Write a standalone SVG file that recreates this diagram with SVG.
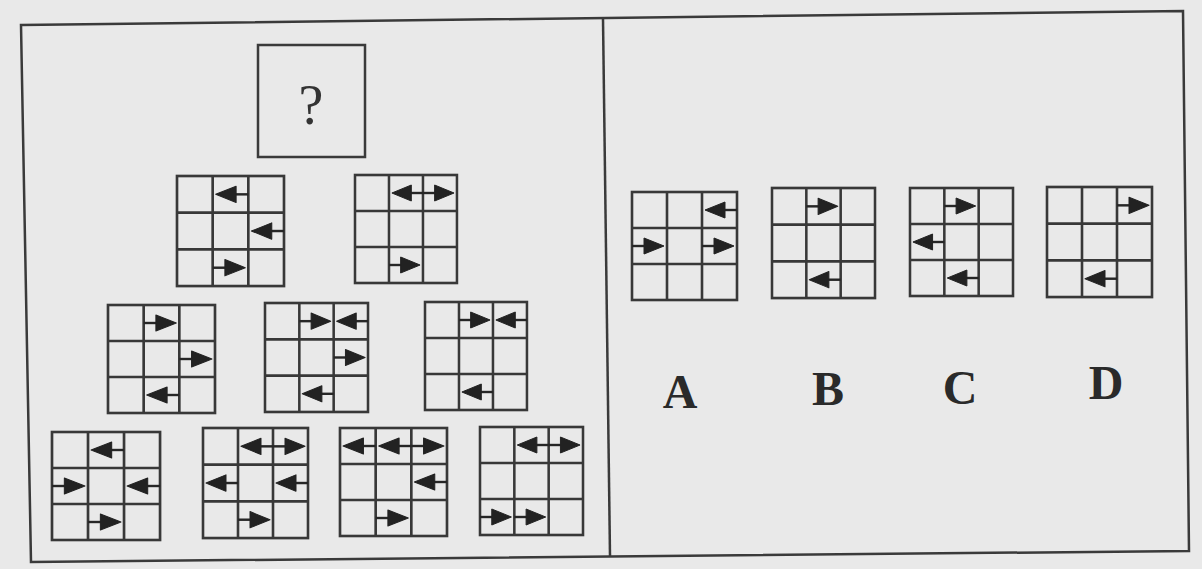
<svg xmlns="http://www.w3.org/2000/svg" xmlns:xlink="http://www.w3.org/1999/xlink" width="1202" height="569" viewBox="0 0 1202 569">
<style>
.frame{fill:none;stroke:#3a3a3a;stroke-width:2.5}
.gl{fill:none;stroke:#383838;stroke-width:2.6}
.al{stroke:#262626;stroke-width:2.4;fill:none}
.ah{fill:#222;stroke:#222;stroke-width:1;stroke-linejoin:round}
.lbl{font-family:"Liberation Serif","Times New Roman",serif;font-weight:bold;font-size:48px;fill:#2a2a2a;text-anchor:middle}
.q{font-family:"Liberation Serif","Times New Roman",serif;font-size:56px;fill:#333;text-anchor:middle}
</style>
<defs>
<g id="grid">
<rect class="gl" x="0" y="0" width="105" height="108"/>
<path class="gl" d="M35,0V108M70,0V108M0,36H105M0,72H105"/>
</g>
<g id="aR"><path class="al" d="M0,0H16"/><polygon class="ah" points="12,-8 32,0 12,8"/></g>
<g id="aL"><path class="al" d="M19,0H35"/><polygon class="ah" points="23,-8 3,0 23,8"/></g>
</defs>
<rect width="1202" height="569" fill="#e9e9e9"/>
<g id="frame">
<polygon class="frame" points="21,25 1183,11 1189,551 31,562"/>
<path class="frame" d="M603,19L610,556"/>
</g>
<g id="question">
<rect class="frame" x="258" y="45" width="107" height="112"/>
<text class="q" x="311" y="124">?</text>
</g>
<g id="g1" transform="translate(177,176) scale(1.019,1.019)">
<use xlink:href="#grid"/>
<use xlink:href="#aL" x="35" y="18"/><use xlink:href="#aL" x="70" y="54"/><use xlink:href="#aR" x="35" y="90"/>
</g>
<g id="g2" transform="translate(355,175) scale(0.971,1)">
<use xlink:href="#grid"/>
<use xlink:href="#aL" x="35" y="18"/><use xlink:href="#aR" x="70" y="18"/><use xlink:href="#aR" x="35" y="90"/>
</g>
<g id="g3" transform="translate(108,305) scale(1.019,1)">
<use xlink:href="#grid"/>
<use xlink:href="#aR" x="35" y="18"/><use xlink:href="#aR" x="70" y="54"/><use xlink:href="#aL" x="35" y="90"/>
</g>
<g id="g4" transform="translate(265,303) scale(0.981,1.009)">
<use xlink:href="#grid"/>
<use xlink:href="#aR" x="35" y="18"/><use xlink:href="#aL" x="70" y="18"/><use xlink:href="#aR" x="70" y="54"/><use xlink:href="#aL" x="35" y="90"/>
</g>
<g id="g5" transform="translate(425,302) scale(0.971,1)">
<use xlink:href="#grid"/>
<use xlink:href="#aR" x="35" y="18"/><use xlink:href="#aL" x="70" y="18"/><use xlink:href="#aL" x="35" y="90"/>
</g>
<g id="g6" transform="translate(52,432) scale(1.029,1)">
<use xlink:href="#grid"/>
<use xlink:href="#aL" x="35" y="18"/><use xlink:href="#aR" x="0" y="54"/><use xlink:href="#aL" x="70" y="54"/><use xlink:href="#aR" x="35" y="90"/>
</g>
<g id="g7" transform="translate(203,428) scale(1,1.019)">
<use xlink:href="#grid"/>
<use xlink:href="#aL" x="35" y="18"/><use xlink:href="#aR" x="70" y="18"/><use xlink:href="#aL" x="0" y="54"/><use xlink:href="#aL" x="70" y="54"/><use xlink:href="#aR" x="35" y="90"/>
</g>
<g id="g8" transform="translate(340,428) scale(1.019,1)">
<use xlink:href="#grid"/>
<use xlink:href="#aL" x="0" y="18"/><use xlink:href="#aL" x="35" y="18"/><use xlink:href="#aR" x="70" y="18"/><use xlink:href="#aL" x="70" y="54"/><use xlink:href="#aR" x="35" y="90"/>
</g>
<g id="g9" transform="translate(480,427) scale(0.981,1)">
<use xlink:href="#grid"/>
<use xlink:href="#aL" x="35" y="18"/><use xlink:href="#aR" x="70" y="18"/><use xlink:href="#aR" x="0" y="90"/><use xlink:href="#aR" x="35" y="90"/>
</g>
<g id="optA" transform="translate(632,192)">
<use xlink:href="#grid"/>
<use xlink:href="#aL" x="70" y="18"/><use xlink:href="#aR" x="0" y="54"/><use xlink:href="#aR" x="70" y="54"/>
</g>
<g id="optB" transform="translate(772,188) scale(0.981,1.019)">
<use xlink:href="#grid"/>
<use xlink:href="#aR" x="35" y="18"/><use xlink:href="#aL" x="35" y="90"/>
</g>
<g id="optC" transform="translate(910,188) scale(0.981,1)">
<use xlink:href="#grid"/>
<use xlink:href="#aR" x="35" y="18"/><use xlink:href="#aL" x="0" y="54"/><use xlink:href="#aL" x="35" y="90"/>
</g>
<g id="optD" transform="translate(1047,187) scale(1,1.019)">
<use xlink:href="#grid"/>
<use xlink:href="#aR" x="70" y="18"/><use xlink:href="#aL" x="35" y="90"/>
</g>
<g id="labels">
<text class="lbl" x="680" y="408">A</text>
<text class="lbl" x="828" y="405">B</text>
<text class="lbl" x="960" y="404">C</text>
<text class="lbl" x="1106" y="399">D</text>
</g>
</svg>
